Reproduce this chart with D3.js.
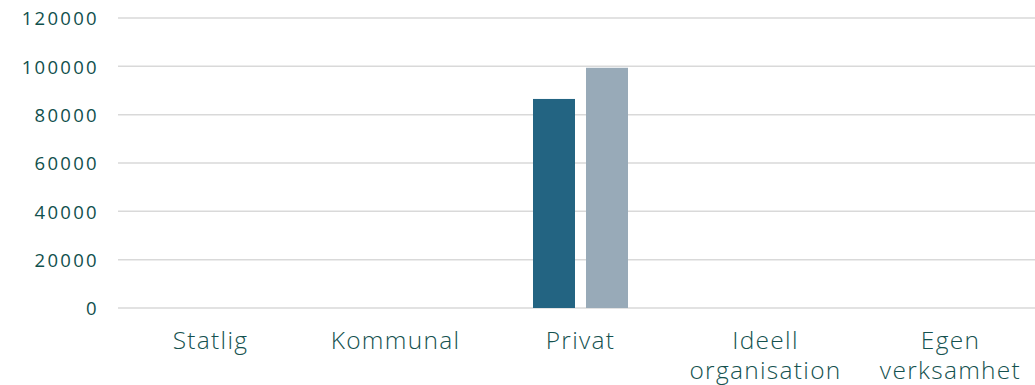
<!DOCTYPE html>
<html>
<head>
<meta charset="utf-8">
<script src="https://cdn.jsdelivr.net/npm/d3@7"></script>
<style>
  html, body { margin: 0; padding: 0; background: #fff; }
  svg { display: block; }
  .tick-y { font-family: "Open Sans", sans-serif; font-weight: 500; font-size: 18.5px; fill: #11504d; letter-spacing: 2.3px; }
  .cat { font-family: "Open Sans", sans-serif; font-weight: 350; font-size: 24.5px; fill: #15524f; letter-spacing: 1.3px; }
</style>
</head>
<body>
<svg id="chart" width="1035" height="385"></svg>
<script>
// Categories (organisation type) and the two series shown per category
const categories = ["Statlig", "Kommunal", "Privat", "Ideell organisation", "Egen verksamhet"];
const seriesNames = ["Serie 1", "Serie 2"];
const series1 = [0, 0, 86500, 0, 0];
const series2 = [0, 0, 99400, 0, 0];
const yTicks = [0, 20000, 40000, 60000, 80000, 100000, 120000];
const colors = ["#236482", "#98aab8"];

const svg = d3.select("#chart");
const plotLeft = 118, plotRight = 1043, plotTop = 18, plotBottom = 308;

const x0 = d3.scaleBand().domain(categories).range([plotLeft, plotRight]).padding(0);
const x1 = d3.scaleBand().domain(seriesNames)
  .range([x0.bandwidth() / 2 - 47.5, x0.bandwidth() / 2 + 47.5])
  .paddingInner(2 - 95 / 53).paddingOuter(0);
const y = d3.scaleLinear().domain([0, 120000]).range([plotBottom, plotTop]);

// Horizontal gridlines
svg.append("g").selectAll("line").data(yTicks).join("line")
  .attr("x1", plotLeft).attr("x2", plotRight)
  .attr("y1", d => y(d)).attr("y2", d => y(d))
  .attr("stroke", "#d9d9d9").attr("stroke-width", 1.5);

// Y axis labels
const yAxis = d3.axisLeft(y).tickValues(yTicks).tickSize(0).tickPadding(0).tickFormat(d3.format("d"));
const gy = svg.append("g").attr("transform", "translate(99,0)").call(yAxis);
gy.select(".domain").remove();
gy.selectAll("text").attr("class", "tick-y").attr("dy", "0.36em");

// Bars
const rows = categories.map((c, i) => ({ cat: c, vals: [series1[i], series2[i]] }));
const groups = svg.append("g").selectAll("g").data(rows).join("g")
  .attr("transform", d => `translate(${x0(d.cat)},0)`);
groups.selectAll("rect")
  .data(d => d.vals.map((v, j) => ({ name: seriesNames[j], v, j })))
  .join("rect")
  .attr("x", d => x1(d.name))
  .attr("width", x1.bandwidth())
  .attr("y", d => y(d.v))
  .attr("height", d => y(0) - y(d.v))
  .attr("fill", d => colors[d.j]);

// Category labels (wrapped to two lines where needed)
const labelLines = {
  "Statlig": ["Statlig"],
  "Kommunal": ["Kommunal"],
  "Privat": ["Privat"],
  "Ideell organisation": ["Ideell", "organisation"],
  "Egen verksamhet": ["Egen", "verksamhet"]
};
const cats = svg.append("g").selectAll("text").data(categories).join("text")
  .attr("class", "cat")
  .attr("text-anchor", "middle")
  .attr("x", d => x0(d) + x0.bandwidth() / 2)
  .attr("y", 349);
cats.selectAll("tspan").data(d => labelLines[d]).join("tspan")
  .attr("x", function () { return this.parentNode.getAttribute("x"); })
  .attr("dy", (d, i) => i === 0 ? 0 : 30)
  .text(d => d);
</script>
</body>
</html>
